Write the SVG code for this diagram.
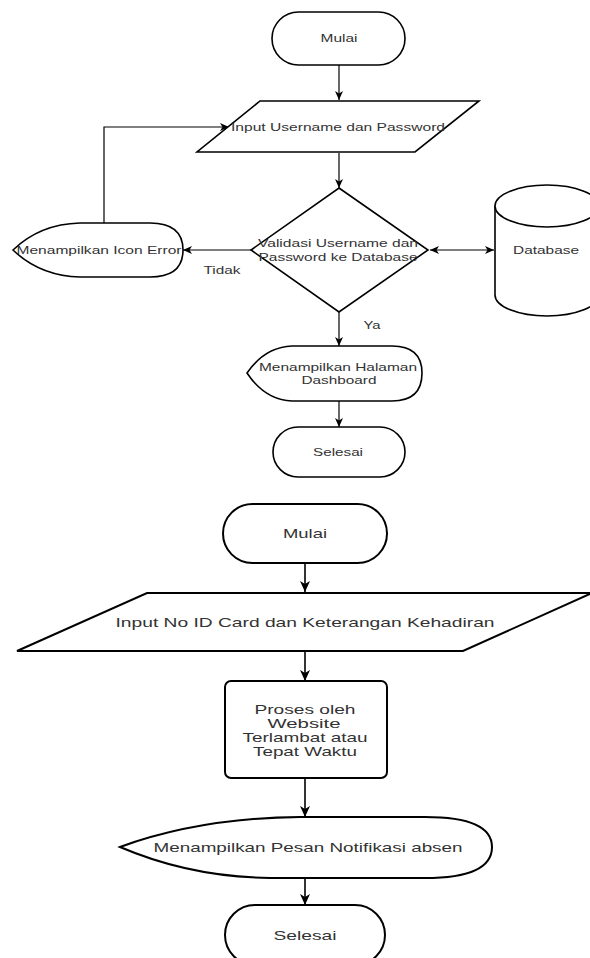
<svg xmlns="http://www.w3.org/2000/svg" width="590" height="958" viewBox="0 0 590 958">
<style>
.s{fill:#fff;stroke:#000;stroke-width:1.6}
.b{fill:#fff;stroke:#000;stroke-width:2}
.t{font-family:"Liberation Sans",Arial,sans-serif;font-size:11px;fill:#333;text-anchor:middle;dominant-baseline:central}
.t2{font-family:"Liberation Sans",Arial,sans-serif;font-size:13px;fill:#333;text-anchor:middle;dominant-baseline:central}
.c{fill:none;stroke:#000;stroke-width:1.2}
.c2{fill:none;stroke:#000;stroke-width:1.6}
</style>
<defs>
<marker id="a" markerWidth="10" markerHeight="10" refX="9" refY="5" orient="auto" markerUnits="userSpaceOnUse">
<path d="M0,1 L9,5 L0,9 L2.5,5 Z" fill="#000"/>
</marker>
<marker id="as" markerWidth="10" markerHeight="10" refX="1" refY="5" orient="auto" markerUnits="userSpaceOnUse">
<path d="M10,1 L1,5 L10,9 L7.5,5 Z" fill="#000"/>
</marker>
<marker id="a2" markerWidth="12" markerHeight="12" refX="11" refY="6" orient="auto" markerUnits="userSpaceOnUse">
<path d="M0,1 L11,6 L0,11 L3,6 Z" fill="#000"/>
</marker>
</defs>

<g id="connectors">
<path class="c" d="M339,65 L339,100" marker-end="url(#a)"/>
<path class="c" d="M339,153 L339,188" marker-end="url(#a)"/>
<path class="c" d="M251,250 L183,250" marker-end="url(#a)"/>
<path class="c" d="M104,223 L104,127 L229,127" marker-end="url(#a)"/>
<path class="c" d="M430,250 L494,250" marker-start="url(#as)" marker-end="url(#a)"/>
<path class="c" d="M339,312 L339,346" marker-end="url(#a)"/>
<path class="c" d="M339,401 L339,427" marker-end="url(#a)"/>
<text class="t" x="222" y="270" textLength="37" lengthAdjust="spacingAndGlyphs">Tidak</text>
<text class="t" x="372" y="325" textLength="17" lengthAdjust="spacingAndGlyphs">Ya</text>
<path class="c2" d="M305,563 L305,592" marker-end="url(#a2)"/>
<path class="c2" d="M305,652 L305,681" marker-end="url(#a2)"/>
<path class="c2" d="M305,778 L305,817" marker-end="url(#a2)"/>
<path class="c2" d="M305,878 L305,905" marker-end="url(#a2)"/>
</g>

<g id="mulai1">
<rect class="s" x="272" y="12" width="133" height="53" rx="26.5"/>
<text class="t" x="339" y="38" textLength="37" lengthAdjust="spacingAndGlyphs">Mulai</text>
</g>

<g id="input1">
<path class="s" d="M260,101 L479,101 L415,152 L197,152 Z"/>
<text class="t" x="338" y="127" textLength="214" lengthAdjust="spacingAndGlyphs">Input Username dan Password</text>
</g>

<g id="validasi">
<path class="s" d="M339,188 L428,250 L339,312 L251,250 Z"/>
<text class="t" x="338" y="243" textLength="160" lengthAdjust="spacingAndGlyphs">Validasi Username dan</text>
<text class="t" x="338" y="257" textLength="159" lengthAdjust="spacingAndGlyphs">Password ke Database</text>
</g>

<g id="error">
<path class="s" d="M13,250 Q40,224 80,223 L150,223 Q183,223 183,250 Q183,277 150,277 L80,277 Q40,276 13,250 Z"/>
<text class="t" x="99" y="250" textLength="165" lengthAdjust="spacingAndGlyphs">Menampilkan Icon Error</text>
</g>

<g id="database">
<path class="s" d="M495,206 A52,21 0 0 1 599,206 L599,295 A52,21 0 0 1 495,295 Z"/>
<path class="s" fill="none" d="M495,206 A52,21 0 0 0 599,206"/>
<text class="t" x="546" y="250" textLength="66" lengthAdjust="spacingAndGlyphs">Database</text>
</g>

<g id="dashboard">
<path class="s" d="M247,373 Q265,347 292,346 L392,346 Q422,346 422,373 Q422,401 392,401 L292,401 Q265,400 247,373 Z"/>
<text class="t" x="338" y="367" textLength="158" lengthAdjust="spacingAndGlyphs">Menampilkan Halaman</text>
<text class="t" x="339" y="380" textLength="75" lengthAdjust="spacingAndGlyphs">Dashboard</text>
</g>

<g id="selesai1">
<rect class="s" x="273" y="427" width="132" height="50" rx="25"/>
<text class="t" x="338" y="452" textLength="50" lengthAdjust="spacingAndGlyphs">Selesai</text>
</g>

<g id="mulai2">
<rect class="b" x="223" y="504" width="164" height="59" rx="29.5"/>
<text class="t2" x="305" y="533" textLength="44" lengthAdjust="spacingAndGlyphs">Mulai</text>
</g>

<g id="input2">
<path class="b" d="M147,593 L592,593 L463,651 L17,651 Z"/>
<text class="t2" x="305" y="622" textLength="379" lengthAdjust="spacingAndGlyphs">Input No ID Card dan Keterangan Kehadiran</text>
</g>

<g id="proses">
<rect class="b" x="225" y="681" width="162" height="97" rx="6"/>
<text class="t2" x="305" y="709" textLength="101" lengthAdjust="spacingAndGlyphs">Proses oleh</text>
<text class="t2" x="304" y="723" textLength="73" lengthAdjust="spacingAndGlyphs">Website</text>
<text class="t2" x="305" y="737" textLength="125" lengthAdjust="spacingAndGlyphs">Terlambat atau</text>
<text class="t2" x="305" y="751" textLength="104" lengthAdjust="spacingAndGlyphs">Tepat Waktu</text>
</g>

<g id="notifikasi">
<path class="b" d="M120,847 Q200,818 300,817 L425,817 Q492,817 492,847 Q492,878 425,878 L270,878 Q190,877 120,847 Z"/>
<text class="t2" x="308" y="847" textLength="309" lengthAdjust="spacingAndGlyphs">Menampilkan Pesan Notifikasi absen</text>
</g>

<g id="selesai2">
<rect class="b" x="225" y="905" width="160" height="60" rx="30"/>
<text class="t2" x="305" y="935" textLength="63" lengthAdjust="spacingAndGlyphs">Selesai</text>
</g>
</svg>
